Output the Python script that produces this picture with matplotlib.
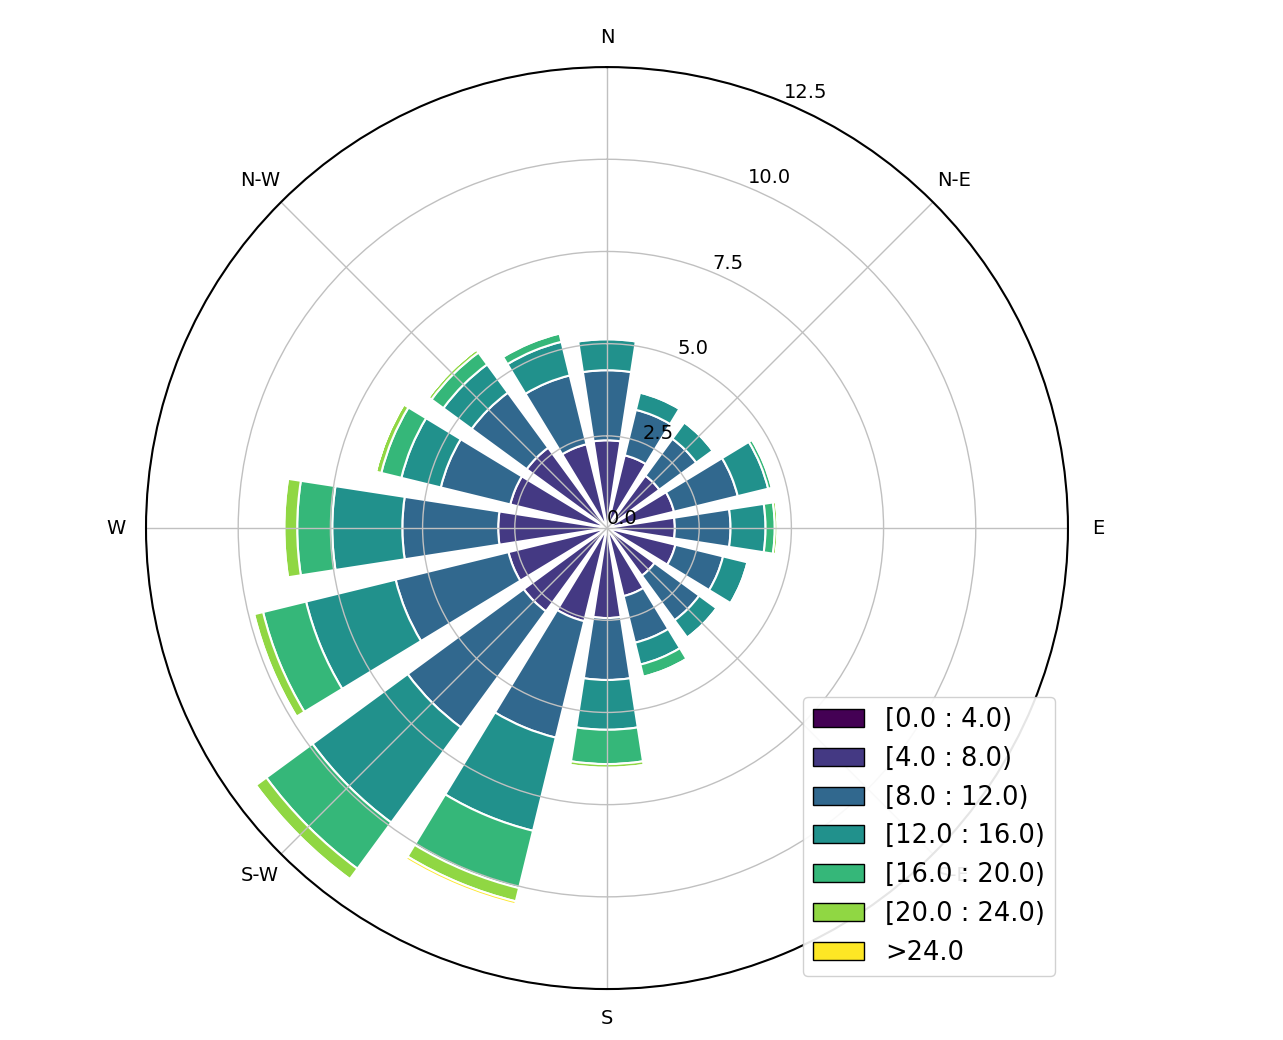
import numpy as np
import matplotlib
matplotlib.use('Agg')
import matplotlib.pyplot as plt
import matplotlib.patches as mpatches

# 16 wind sectors, clockwise from North
directions = ['N', 'NNE', 'NE', 'ENE', 'E', 'ESE', 'SE', 'SSE',
              'S', 'SSW', 'SW', 'WSW', 'W', 'WNW', 'NW', 'NNW']
direction_deg = [0, 22.5, 45, 67.5, 90, 112.5, 135, 157.5,
                 180, 202.5, 225, 247.5, 270, 292.5, 315, 337.5]

# speed bins
bin_labels = ['[0.0 : 4.0)', '[4.0 : 8.0)', '[8.0 : 12.0)', '[12.0 : 16.0)',
              '[16.0 : 20.0)', '[20.0 : 24.0)', '>24.0']

# frequency (%) per bin, one list per bin, ordered like directions
bin_0_4 = [0.1, 0.1, 0.1, 0.1, 0.1, 0.1, 0.1, 0.1, 0.1, 0.1, 0.1, 0.1, 0.1, 0.1, 0.1, 0.1]
bin_4_8 = [2.28, 1.93, 1.66, 1.77, 1.74, 1.81, 1.5, 1.8, 2.34, 2.5, 2.7, 2.65, 2.85, 2.6, 2.6, 2.24]
bin_8_12 = [1.9, 1.27, 1.24, 1.78, 1.51, 1.33, 1.5, 1.3, 1.68, 3.25, 3.9, 3.15, 2.6, 1.94, 1.85, 1.92]
bin_12_16 = [0.84, 0.48, 0.55, 0.85, 0.95, 0.68, 0.58, 0.61, 1.35, 2.6, 3.2, 2.5, 1.9, 1.1, 0.95, 0.94]
bin_16_20 = [0.05, 0.04, 0.02, 0.1, 0.25, 0.02, 0.02, 0.34, 0.93, 1.6, 1.55, 1.2, 0.95, 0.56, 0.4, 0.23]
bin_20_24 = [0.0, 0.0, 0.0, 0.02, 0.08, 0.0, 0.0, 0.03, 0.1, 0.37, 0.35, 0.25, 0.35, 0.15, 0.1, 0.02]
bin_24_up = [0.0, 0.0, 0.0, 0.0, 0.0, 0.0, 0.0, 0.0, 0.05, 0.08, 0.05, 0.02, 0.03, 0.0, 0.0, 0.0]

radial_ticks = [0.0, 2.5, 5.0, 7.5, 10.0, 12.5]
compass_labels = ['N', 'N-E', 'E', 'S-E', 'S', 'S-W', 'W', 'N-W']

bins = [bin_0_4, bin_4_8, bin_8_12, bin_12_16, bin_16_20, bin_20_24, bin_24_up]
colors = [plt.cm.viridis(v) for v in np.linspace(0, 1, len(bins))]

fig = plt.figure(figsize=(12.83, 10.40), dpi=100)
ax = fig.add_axes([0.1138, 0.049, 0.7186, 0.8865], projection='polar')
ax.set_theta_zero_location('N')
ax.set_theta_direction(-1)

theta = np.deg2rad(direction_deg)
width = np.deg2rad(22.5) * 0.78
bottom = np.zeros(len(directions))
for vals, col in zip(bins, colors):
    vals = np.array(vals)
    ax.bar(theta, vals, width=width, bottom=bottom, color=col,
           edgecolor='white', linewidth=1.5, align='center')
    bottom += vals

ax.set_ylim(0, 12.5)
ax.set_rgrids(radial_ticks, labels=[f'{t:.1f}' for t in radial_ticks],
              angle=22.5, fontsize=14)
ax.set_thetagrids(np.arange(0, 360, 45), labels=compass_labels, fontsize=14)
ax.tick_params(axis='x', pad=11)
ax.grid(color='#c0c0c0', linewidth=1.0)
ax.spines['polar'].set_linewidth(1.5)

handles = [mpatches.Rectangle((0, 0), 0.2, 0.2, facecolor=c, edgecolor='black')
           for c in colors]
ax.legend(handles=handles, labels=bin_labels, loc='lower right',
          fontsize=18.5, borderaxespad=0.5, framealpha=0.9)

fig.savefig('out.png', dpi=100)
